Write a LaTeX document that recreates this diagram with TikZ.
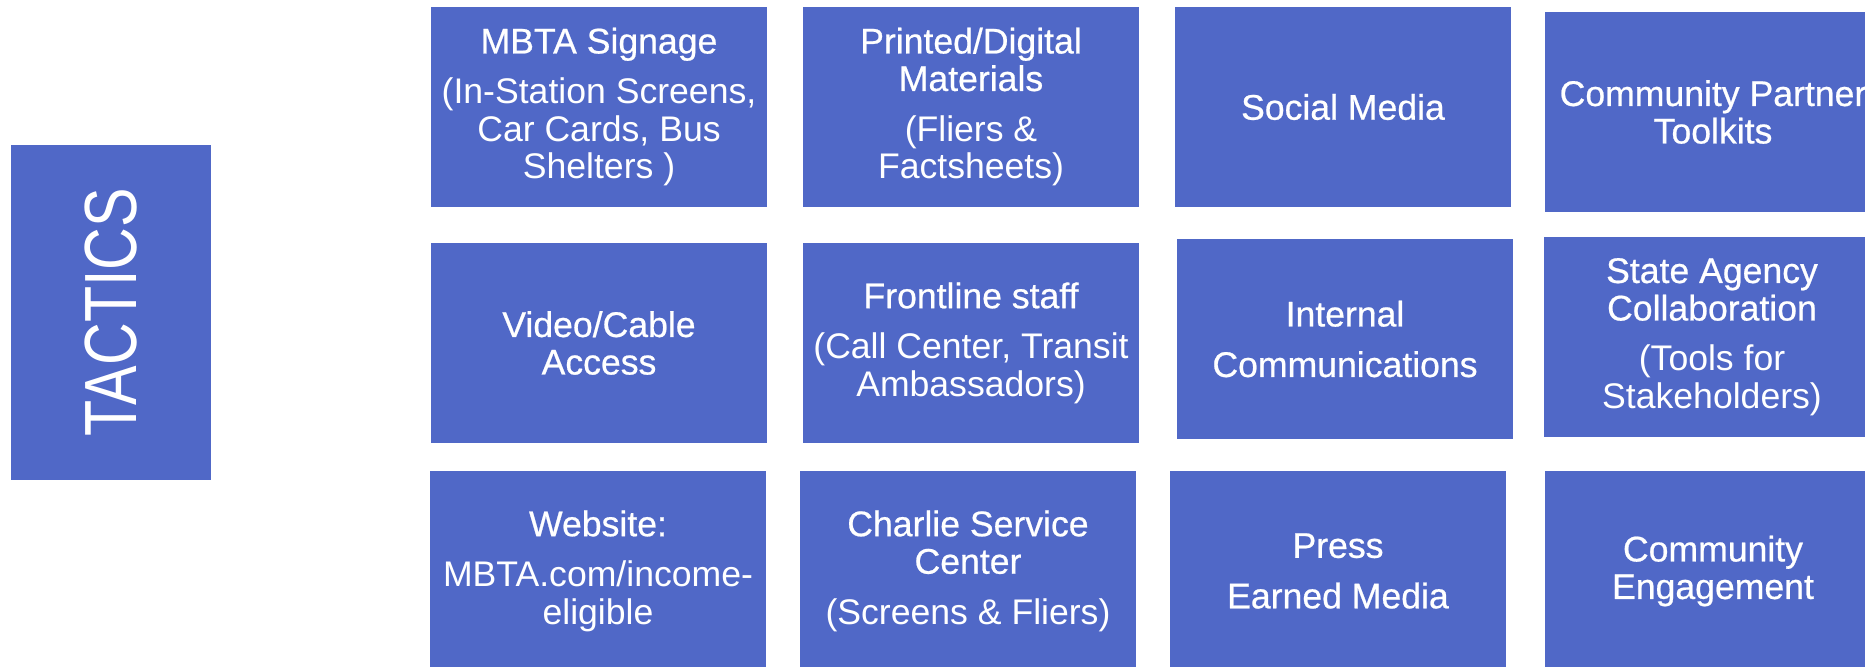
\documentclass[tikz,border=0pt]{standalone}
\usepackage{fontspec}
\setmainfont{Liberation Sans}
\newfontfamily\titlefont[FakeBold=0.6]{Liberation Sans}
\newcommand\ttl[1]{{\titlefont #1}}
\definecolor{tblue}{RGB}{80,104,199}
\begin{document}
\begin{tikzpicture}[x=0.5pt,y=-0.5pt,
  box/.style={fill=tblue, text=white, minimum width=168pt, minimum height=100pt,
    inner sep=0pt, align=center, font=\fontsize{17.8}{18.75}\selectfont}]
\useasboundingbox (0,0) rectangle (1865,667);
\clip (0,0) rectangle (1865,667);
\fill[white] (0,0) rectangle (1865,667);
% side label
\node[fill=tblue, minimum width=100pt, minimum height=167.5pt, inner sep=0pt] (tactics) at (111,312.5) {};
\node[text=white, rotate=90, inner sep=0pt, font=\fontsize{37}{40}\selectfont] (tacticslabel) at (tactics.center) {\scalebox{0.8}[1]{TACTICS}};
% row 1
\node[box] (r1c1) at (599,107) {\ttl{MBTA Signage}\\[6.5pt](In-Station Screens,\\Car Cards, Bus\\Shelters )};
\node[box] (r1c2) at (971,107) {\ttl{Printed/Digital}\\\ttl{Materials}\\[6.5pt](Fliers \&\\Factsheets)};
\node[box] (r1c3) at (1343,107) {\ttl{Social Media}};
\node[box] (r1c4) at (1713,112) {\ttl{Community Partner}\\\ttl{Toolkits}};
% row 2
\node[box] (r2c1) at (599,343) {\ttl{Video/Cable}\\\ttl{Access}};
\node[box] (r2c2) at (971,343) {\ttl{Frontline staff}\\[6.5pt](Call Center, Transit\\Ambassadors)};
\node[box] (r2c3) at (1345,339) {\ttl{Internal}\\[6.5pt]\ttl{Communications}};
\node[box] (r2c4) at (1712,337) {\ttl{State Agency}\\\ttl{Collaboration}\\[6.5pt](Tools for\\Stakeholders)};
% row 3
\node[box] (r3c1) at (598,571) {\ttl{Website:}\\[6.5pt]MBTA.com/income-\\eligible};
\node[box] (r3c2) at (968,571) {\ttl{Charlie Service}\\\ttl{Center}\\[6.5pt](Screens \& Fliers)};
\node[box] (r3c3) at (1338,571) {\ttl{Press}\\[6.5pt]\ttl{Earned Media}};
\node[box] (r3c4) at (1713,571) {\ttl{Community}\\\ttl{Engagement}};
\end{tikzpicture}
\end{document}
